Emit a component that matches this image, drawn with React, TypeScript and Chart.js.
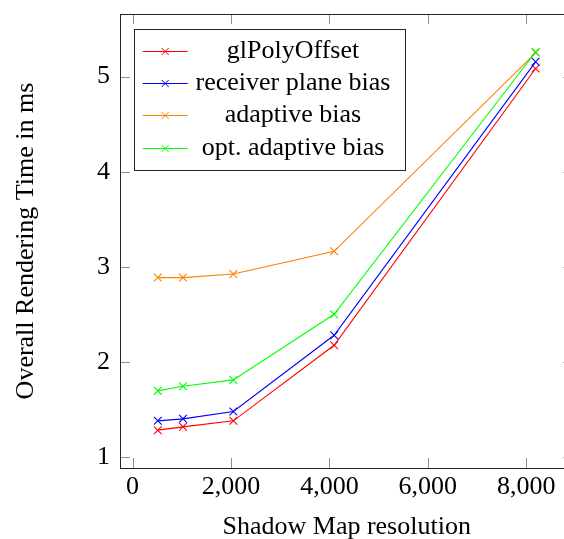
import React, { useEffect, useRef } from "react";
import { Chart, registerables } from "chart.js";

Chart.register(...registerables);

const resolutions = [512, 1024, 2048, 4096, 8192];
const glPolyOffset = [1.285, 1.32, 1.383, 2.177, 5.085];
const receiverPlaneBias = [1.383, 1.404, 1.481, 2.282, 5.155];
const adaptiveBias = [2.888, 2.888, 2.926, 3.164, 5.25];
const optAdaptiveBias = [1.698, 1.747, 1.813, 2.503, 5.258];
const seriesLabels = ["glPolyOffset", "receiver plane bias", "adaptive bias", "opt. adaptive bias"];
const seriesColors = ["#ff0000", "#0000ff", "#ff8000", "#00ff00"];
const seriesValues = [glPolyOffset, receiverPlaneBias, adaptiveBias, optAdaptiveBias];
const xTicks = [0, 2000, 4000, 6000, 8000];
const yTicks = [1, 2, 3, 4, 5];
const xTitle = "Shadow Map resolution";
const yTitle = "Overall Rendering Time in ms";

const FONT_FAMILY = '"Liberation Serif", "Times New Roman", serif';
const FONT_SIZE = 26;

const framePlugin = {
  id: "frame",
  afterDraw(chart: any) {
    const ctx = chart.ctx;
    const { left, top, right, bottom } = chart.chartArea;
    const xs = chart.scales.x;
    const ys = chart.scales.y;
    ctx.save();
    // tick marks (inside, all four sides)
    ctx.strokeStyle = "#8f8f8f";
    ctx.lineWidth = 1;
    const TL = 10;
    ctx.beginPath();
    for (const v of xTicks) {
      const px = Math.round(xs.getPixelForValue(v)) + 0.5;
      ctx.moveTo(px, bottom);
      ctx.lineTo(px, bottom - TL);
      ctx.moveTo(px, top);
      ctx.lineTo(px, top + TL);
    }
    for (const v of yTicks) {
      const py = Math.round(ys.getPixelForValue(v)) + 0.5;
      ctx.moveTo(left, py);
      ctx.lineTo(left + TL, py);
      ctx.moveTo(right, py);
      ctx.lineTo(right - TL, py);
    }
    ctx.stroke();
    // frame
    ctx.strokeStyle = "#262626";
    ctx.lineWidth = 1;
    ctx.strokeRect(Math.round(left) + 0.5, Math.round(top) + 0.5, Math.round(right - left), Math.round(bottom - top));

    // legend
    const bx = Math.round(left) + 14.5;
    const by = Math.round(top) + 15.5;
    const bw = 271;
    const bh = 141;
    ctx.fillStyle = "#ffffff";
    ctx.fillRect(bx, by, bw, bh);
    ctx.strokeStyle = "#262626";
    ctx.strokeRect(bx, by, bw, bh);
    ctx.font = `${FONT_SIZE}px ${FONT_FAMILY}`;
    ctx.textAlign = "center";
    ctx.textBaseline = "alphabetic";
    chart.data.datasets.forEach((ds: any, i: number) => {
      const cy = Math.round(by + 21.5 + i * 32.2) + 0.5;
      const x0 = bx + 8.2;
      const x1 = bx + 53.2;
      const xm = (x0 + x1) / 2;
      ctx.strokeStyle = ds.borderColor;
      ctx.lineWidth = 1;
      ctx.beginPath();
      ctx.moveTo(x0, cy);
      ctx.lineTo(x1, cy);
      const m = 3.5;
      ctx.moveTo(xm - m, cy - m);
      ctx.lineTo(xm + m, cy + m);
      ctx.moveTo(xm - m, cy + m);
      ctx.lineTo(xm + m, cy - m);
      ctx.stroke();
      ctx.fillStyle = "#000000";
      ctx.fillText(ds.label, bx + 158.5, cy + 6.5);
    });
    ctx.restore();
  },
};

export default function App() {
  const ref = useRef<HTMLCanvasElement | null>(null);
  useEffect(() => {
    if (!ref.current) return;
    const datasets = seriesLabels.map((label, i) => ({
      label,
      data: resolutions.map((x, j) => ({ x, y: seriesValues[i][j] })),
      borderColor: seriesColors[i],
      backgroundColor: seriesColors[i],
      borderWidth: 1.1,
      pointStyle: "crossRot" as const,
      pointRadius: 5.5,
      pointBorderWidth: 1.1,
      pointBorderColor: seriesColors[i],
      tension: 0,
      fill: false,
      order: seriesLabels.length - i,
    }));
    const chart = new Chart(ref.current, {
      type: "line",
      data: { datasets },
      options: {
        animation: false,
        responsive: false,
        devicePixelRatio: 1,
        layout: { padding: { top: 14, right: 5.5, left: 0, bottom: 0 } },
        plugins: { legend: { display: false }, tooltip: { enabled: false } },
        scales: {
          x: {
            type: "linear",
            min: -256,
            max: 8960,
            grid: { display: false, drawTicks: false },
            border: { display: false },
            afterBuildTicks: (s: any) => {
              s.ticks = xTicks.map((v) => ({ value: v }));
            },
            afterFit: (s: any) => {
              s.height = 92;
              s.paddingLeft = 0;
              s.paddingRight = 0;
            },
            ticks: {
              padding: 4,
              color: "#000",
              maxRotation: 0,
              font: { family: FONT_FAMILY, size: FONT_SIZE },
              callback: (v: any) => Number(v).toLocaleString("en-US"),
            },
            title: {
              display: true,
              text: xTitle,
              color: "#000",
              font: { family: FONT_FAMILY, size: FONT_SIZE },
              padding: { top: 0, bottom: 17.4 },
            },
          },
          y: {
            type: "linear",
            min: 0.8875,
            max: 5.6575,
            grid: { display: false, drawTicks: false },
            border: { display: false },
            afterBuildTicks: (s: any) => {
              s.ticks = yTicks.map((v) => ({ value: v }));
            },
            afterFit: (s: any) => {
              s.width = 120;
              s.paddingTop = 0;
              s.paddingBottom = 0;
            },
            ticks: {
              padding: 10,
              color: "#000",
              font: { family: FONT_FAMILY, size: FONT_SIZE },
              callback: (v: any) => String(v),
            },
            title: {
              display: true,
              text: yTitle,
              color: "#000",
              font: { family: FONT_FAMILY, size: FONT_SIZE },
              padding: { top: 10.5, bottom: 0 },
            },
          },
        },
      },
      plugins: [framePlugin],
    });
    return () => chart.destroy();
  }, []);
  return (
    <div
      style={{
        position: "fixed",
        left: 0,
        top: 0,
        width: 564,
        height: 539,
        overflow: "hidden",
        background: "#fff",
      }}
    >
      <canvas ref={ref} width={580} height={560} style={{ display: "block", width: 580, height: 560 }} />
    </div>
  );
}
